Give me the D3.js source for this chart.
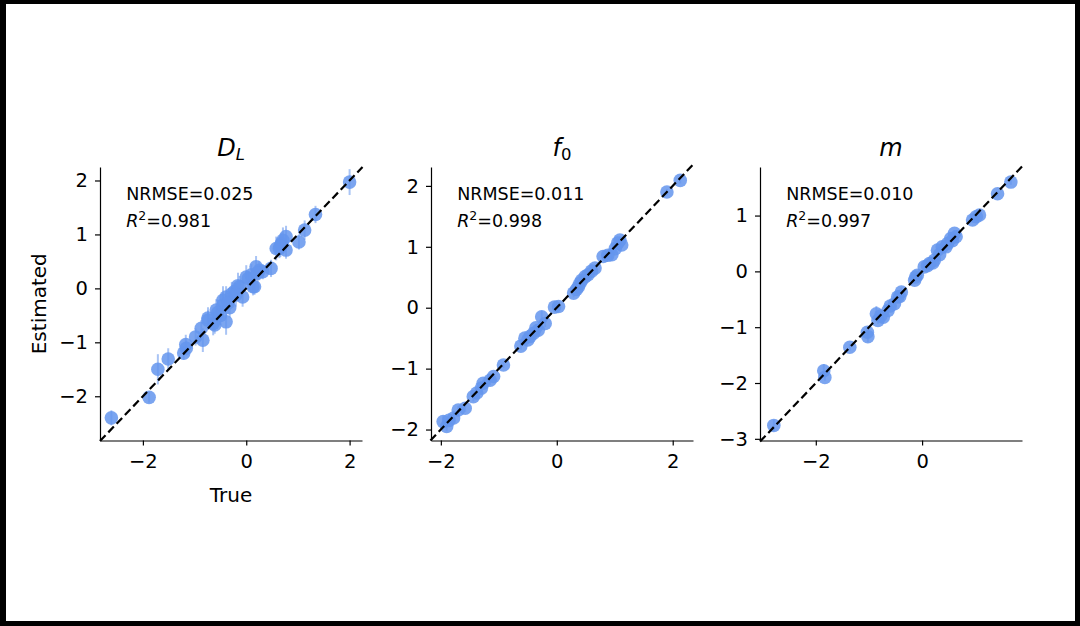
<!DOCTYPE html>
<html>
<head>
<meta charset="utf-8">
<script src="https://cdn.jsdelivr.net/npm/d3@7"></script>
<style>
  body { margin: 0; background: #000; }
  svg { display: block; }
  text { font-family: "DejaVu Sans", sans-serif; fill: #000; }
</style>
</head>
<body>
<script>
// ---- data ----
var trueDL = [-2.61,-1.88,-1.71,-1.51,-1.21,-1.16,-1.17,-0.98,-0.87,-0.84,-0.74,-0.74,-0.64,-0.61,-0.58,-0.55,-0.50,-0.45,-0.45,-0.39,-0.39,-0.32,-0.28,-0.23,-0.16,-0.13,-0.07,0.00,0.04,0.10,0.13,0.16,0.19,0.25,0.32,0.48,0.58,0.64,0.68,0.71,0.77,0.77,1.02,1.13,1.34,2.00,-0.35,-0.20,0.22,0.66];
var estDL  = [-2.40,-2.02,-1.50,-1.31,-1.20,-1.11,-1.04,-0.90,-0.74,-0.96,-0.55,-0.59,-0.65,-0.68,-0.40,-0.45,-0.50,-0.31,-0.22,-0.62,-0.16,-0.36,-0.10,-0.06,0.05,0.03,-0.16,0.21,0.18,0.25,0.03,0.03,0.40,0.33,0.31,0.37,0.74,0.74,0.83,0.89,0.71,0.96,0.86,1.08,1.37,1.97,-0.27,-0.12,0.28,0.78];
var errDL  = [0.14,0.10,0.28,0.20,0.12,0.14,0.18,0.16,0.15,0.22,0.20,0.18,0.22,0.16,0.20,0.24,0.18,0.22,0.26,0.24,0.20,0.18,0.22,0.16,0.24,0.20,0.18,0.22,0.14,0.20,0.16,0.15,0.20,0.18,0.14,0.16,0.22,0.18,0.20,0.24,0.16,0.20,0.14,0.18,0.16,0.24,0.20,0.22,0.18,0.20];

var trueF0 = [-1.96,-1.90,-1.78,-1.70,-1.58,-1.44,-1.38,-1.27,-1.15,-1.09,-0.92,-0.62,-0.55,-0.46,-0.40,-0.32,-0.26,-0.20,-0.04,0.03,0.29,0.37,0.43,0.49,0.54,0.66,0.80,0.95,1.01,1.09,1.12,1.90,2.13,-1.86,-1.30,-0.50,-0.36,0.34,0.40,0.60,0.88,1.05];
var estF0  = [-1.87,-1.95,-1.81,-1.68,-1.65,-1.46,-1.40,-1.24,-1.19,-1.13,-0.94,-0.63,-0.50,-0.47,-0.42,-0.37,-0.15,-0.26,0.01,0.02,0.24,0.34,0.45,0.51,0.54,0.65,0.84,0.87,0.97,1.11,1.03,1.90,2.09,-1.85,-1.32,-0.53,-0.33,0.30,0.40,0.60,0.86,1.06];
var errF0  = [0.10,0.08,0.06,0.07,0.06,0.08,0.07,0.06,0.08,0.07,0.05,0.06,0.07,0.06,0.08,0.07,0.10,0.06,0.05,0.06,0.07,0.06,0.08,0.07,0.12,0.06,0.05,0.06,0.07,0.06,0.05,0.05,0.05,0.06,0.07,0.06,0.06,0.07,0.08,0.06,0.05,0.06];

var trueM = [-2.79,-1.85,-1.83,-1.36,-1.03,-1.02,-0.86,-0.83,-0.73,-0.64,-0.52,-0.46,-0.39,-0.14,-0.09,0.04,0.14,0.23,0.29,0.38,0.48,0.54,0.61,0.64,0.95,1.08,1.42,1.67,-0.78,-0.60,-0.42,-0.12,0.10,0.20,0.33,0.45,0.57,1.02];
var estM  = [-2.76,-1.78,-1.90,-1.36,-1.09,-1.17,-0.76,-0.88,-0.82,-0.70,-0.58,-0.46,-0.37,-0.16,-0.07,0.08,0.14,0.20,0.38,0.44,0.50,0.59,0.68,0.62,0.92,1.01,1.39,1.60,-0.80,-0.62,-0.45,-0.10,0.10,0.15,0.30,0.44,0.55,0.98];
var errM  = [0.10,0.12,0.06,0.06,0.08,0.10,0.14,0.06,0.07,0.06,0.07,0.06,0.08,0.06,0.06,0.05,0.06,0.06,0.07,0.06,0.05,0.06,0.06,0.06,0.05,0.05,0.05,0.05,0.06,0.06,0.08,0.06,0.05,0.06,0.06,0.05,0.06,0.05];

var titleMain = ["D", "f", "m"];
var titleSub  = ["L", "0", ""];
var nrmse = ["0.025", "0.011", "0.010"];
var r2    = ["0.981", "0.998", "0.997"];

var xDomains = [[-2.83, 2.24], [-2.17, 2.35], [-3.05, 1.88]];
var yDomains = [[-2.82, 2.25], [-2.18, 2.31], [-3.03, 1.87]];
var xTicks = [[-2, 0, 2], [-2, 0, 2], [-2, 0]];
var yTicks = [[-2, -1, 0, 1, 2], [-2, -1, 0, 1, 2], [-3, -2, -1, 0, 1]];

var xLabel = "True";
var yLabel = "Estimated";

// ---- layout ----
var W = 1080, H = 626;
var lefts = [100, 431, 760];
var axW = 262, axTop = 167, axBottom = 440.5;
var blue = "#6495ED";

var svg = d3.select("body").append("svg")
   .attr("width", W)
   .attr("height", H);

// white page inside the black frame
svg.append("rect")
   .attr("x", 6).attr("y", 4)
   .attr("width", 1069).attr("height", 617)
   .attr("fill", "#fff");

var series = [
   {t: trueDL, e: estDL, s: errDL},
   {t: trueF0, e: estF0, s: errF0},
   {t: trueM, e: estM, s: errM}
];

series.forEach(function(ser, i) {
   var x = d3.scaleLinear().domain(xDomains[i]).range([lefts[i], lefts[i] + axW]);
   var y = d3.scaleLinear().domain(yDomains[i]).range([axBottom, axTop]);
   var g = svg.append("g");

   var pts = ser.t.map(function(v, k) {
      return {t: v, e: ser.e[k], s: ser.s[k]};
   });

   // error bars
   g.selectAll("line.err")
      .data(pts)
      .enter()
      .append("line")
      .attr("class", "err")
      .attr("x1", function(d) { return x(d.t) })
      .attr("x2", function(d) { return x(d.t) })
      .attr("y1", function(d) { return y(d.e - d.s) })
      .attr("y2", function(d) { return y(d.e + d.s) })
      .style("stroke", blue)
      .style("stroke-width", 2)
      .style("opacity", 0.55);

   // points
   g.selectAll("circle")
      .data(pts)
      .enter()
      .append("circle")
      .attr("cx", function(d) { return x(d.t) })
      .attr("cy", function(d) { return y(d.e) })
      .attr("r", 6.8)
      .style("fill", blue)
      .style("opacity", 0.85);

   // identity line
   var lo = Math.min(xDomains[i][0], yDomains[i][0]);
   var hi = Math.max(xDomains[i][1], yDomains[i][1]);
   g.append("line")
      .attr("x1", x(lo)).attr("y1", y(lo))
      .attr("x2", x(hi)).attr("y2", y(hi))
      .style("stroke", "#000")
      .style("stroke-width", 2.2)
      .style("stroke-dasharray", "8,4");

   // axes (left + bottom spines only)
   var fmt = d3.format("d");
   var ax = g.append("g")
      .attr("transform", "translate(0," + axBottom + ")")
      .call(d3.axisBottom(x).tickValues(xTicks[i]).tickFormat(fmt).tickSize(5).tickSizeOuter(0).tickPadding(9));
   var ay = g.append("g")
      .attr("transform", "translate(" + lefts[i] + ",0)")
      .call(d3.axisLeft(y).tickValues(yTicks[i]).tickFormat(fmt).tickSize(5).tickSizeOuter(0).tickPadding(7));
   [ax, ay].forEach(function(a) {
      a.selectAll("path, line").style("stroke", "#000").style("stroke-width", 1.2);
      a.selectAll("text")
         .style("font-family", "'DejaVu Sans', sans-serif")
         .style("font-size", "19.5px")
         .style("fill", "#000");
   });

   // title
   var title = g.append("text")
      .attr("x", lefts[i] + axW / 2)
      .attr("y", 155.5)
      .attr("text-anchor", "middle")
      .style("font-size", "24px");
   title.append("tspan").style("font-style", "italic").text(titleMain[i]);
   if (titleSub[i]) {
      title.append("tspan")
         .attr("dy", 4)
         .style("font-size", "16.5px")
         .style("font-style", titleSub[i] == "0" ? "normal" : "italic")
         .text(titleSub[i]);
   }

   // annotations
   var tx = lefts[i] + axW * 0.1;
   g.append("text")
      .attr("x", tx).attr("y", 199.5)
      .style("font-size", "17.5px")
      .text("NRMSE=" + nrmse[i]);
   var rt = g.append("text")
      .attr("x", tx).attr("y", 226.5)
      .style("font-size", "17.5px");
   rt.append("tspan").style("font-style", "italic").text("R");
   rt.append("tspan").attr("dy", -7).style("font-size", "12.5px").text("2");
   rt.append("tspan").attr("dy", 7).text("=" + r2[i]);
});

// axis labels on the first panel
svg.append("text")
   .attr("x", lefts[0] + axW / 2)
   .attr("y", 501.5)
   .attr("text-anchor", "middle")
   .style("font-size", "20px")
   .text(xLabel);

svg.append("text")
   .attr("transform", "translate(46," + ((axTop + axBottom) / 2) + ") rotate(-90)")
   .attr("text-anchor", "middle")
   .style("font-size", "20px")
   .text(yLabel);
</script>
</body>
</html>
